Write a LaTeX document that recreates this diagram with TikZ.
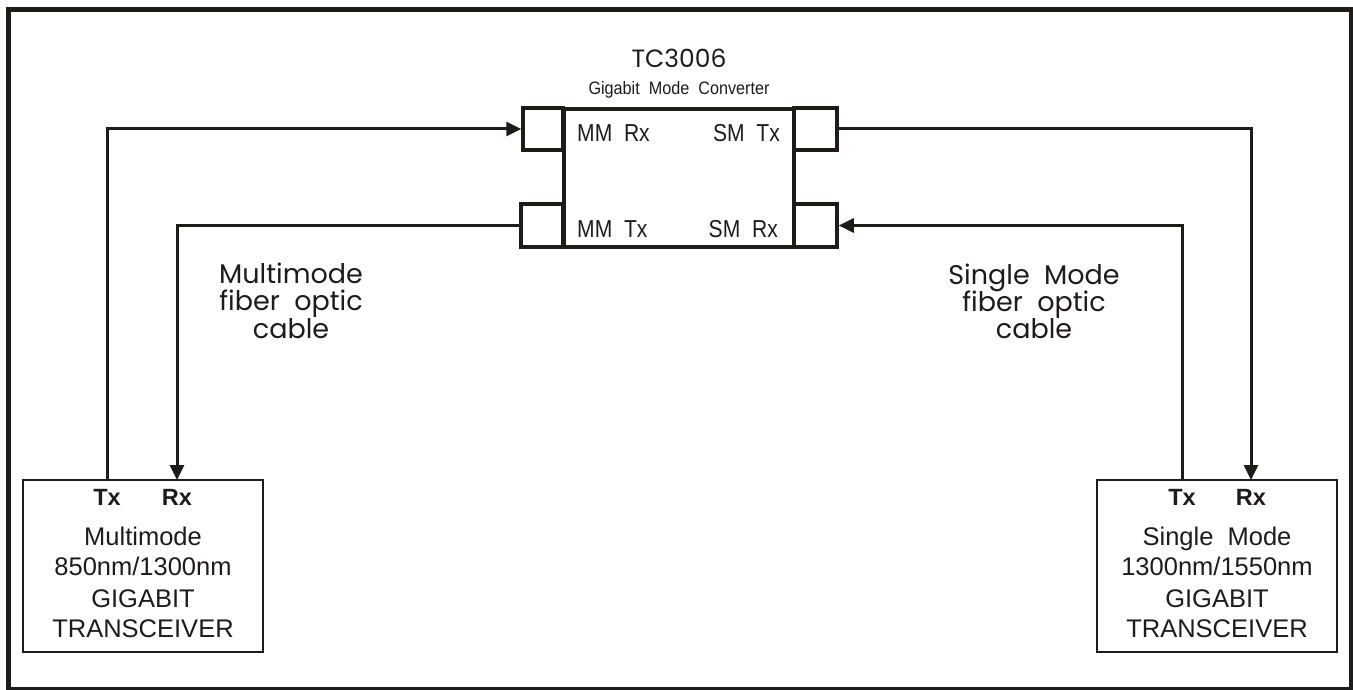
\documentclass[tikz,border=0pt]{standalone}
\usepackage{fontspec}
\setmainfont{Liberation Sans}
\newfontfamily\geo{Poppins}
\newfontfamily\narrowf[FakeStretch=0.86]{Liberation Sans}
\newfontfamily\subf[FakeStretch=0.9]{Liberation Sans}
\usetikzlibrary{arrows.meta}
\definecolor{ink}{HTML}{1E1B1B}
\begin{document}
\begin{tikzpicture}[x=1pt,y=-1pt,
  conn/.style={draw=ink, line width=3pt, -{Triangle[length=15pt,width=14pt]}},
  port/.style={draw=ink, line width=3.5pt, fill=white, inner sep=0pt},
  mainbox/.style={draw=ink, line width=4pt, fill=white, inner sep=0pt, minimum width=230pt, minimum height=138pt},
  xcvr/.style={draw=ink, line width=2.5pt, inner sep=0pt, minimum width=240pt, minimum height=172pt},
  lbl/.style={text=ink, inner sep=0pt, anchor=base},
  cablefont/.style={font=\geo\fontsize{27}{27}\selectfont},
  boxfont/.style={font=\fontsize{25.5}{25.5}\selectfont},
  portfont/.style={font=\narrowf\fontsize{24.5}{24.5}\selectfont},
  txrx/.style={font=\bfseries\fontsize{23.5}{23.5}\selectfont}
]
\useasboundingbox (0,0) rectangle (1353,690);
\draw[draw=ink, line width=4.8pt] (8.5,9.5) rectangle (1351,689);

% converter
\node[mainbox] (conv) at (679,178) {};
\node[port, minimum width=40pt, minimum height=42pt] (pmmrx) at (543,129) {};
\node[port, minimum width=42pt, minimum height=43pt] (pmmtx) at (542,225.5) {};
\node[port, minimum width=43pt, minimum height=42pt] (psmtx) at (815.5,129) {};
\node[port, minimum width=43pt, minimum height=43pt] (psmrx) at (815.5,225.5) {};

\node[lbl, font=\geo\fontsize{25}{25}\selectfont] (title) at (679,68) {TC3006};
\node[lbl, font=\subf\fontsize{18}{18}\selectfont] (subtitle) at (679,95) {Gigabit\ \ Mode\ \ Converter};

\node[lbl, portfont, anchor=base west] (tmmrx) at (577,142) {MM\ \ Rx};
\node[lbl, portfont, anchor=base east] (tsmtx) at (780,142) {SM\ \ Tx};
\node[lbl, portfont, anchor=base west] (tmmtx) at (577,237) {MM\ \ Tx};
\node[lbl, portfont, anchor=base east] (tsmrx) at (778,237) {SM\ \ Rx};

% transceivers
\node[xcvr] (lbox) at (143,566) {};
\node[xcvr] (rbox) at (1217,566) {};

\coordinate (ltx) at (107,480);
\coordinate (lrx) at (177,480);
\coordinate (rtx) at (1182,480);
\coordinate (rrx) at (1251,480);

\node[lbl, txrx] (ltxl) at (107,505) {Tx};
\node[lbl, txrx] (lrxl) at (177,505) {Rx};
\node[lbl, txrx] (rtxl) at (1182,505) {Tx};
\node[lbl, txrx] (rrxl) at (1251,505) {Rx};

\node[lbl, boxfont] (l1) at (143,545) {Multimode};
\node[lbl, boxfont] (l2) at (143,575) {850nm/1300nm};
\node[lbl, boxfont] (l3) at (143,607) {GIGABIT};
\node[lbl, boxfont] (l4) at (143,637) {TRANSCEIVER};

\node[lbl, boxfont] (r1) at (1217,545) {Single\ \ Mode};
\node[lbl, boxfont] (r2) at (1217,575) {1300nm/1550nm};
\node[lbl, boxfont] (r3) at (1217,607) {GIGABIT};
\node[lbl, boxfont] (r4) at (1217,637) {TRANSCEIVER};

% cable labels
\node[lbl, cablefont] (mc1) at (291,283) {Multimode};
\node[lbl, cablefont] (mc2) at (291,310.5) {fiber\ \ optic};
\node[lbl, cablefont] (mc3) at (291,338) {cable};
\node[lbl, cablefont] (sc1) at (1034,284) {Single\ \ Mode};
\node[lbl, cablefont] (sc2) at (1034,311) {fiber\ \ optic};
\node[lbl, cablefont] (sc3) at (1034,338) {cable};

% connectors
\draw[conn] (ltx) |- (pmmrx.west);
\draw[conn] (pmmtx.west) -| (lrx);
\draw[conn] (psmtx.east) -| (rrx);
\draw[conn] (rtx) |- (psmrx.east);
\end{tikzpicture}
\end{document}
